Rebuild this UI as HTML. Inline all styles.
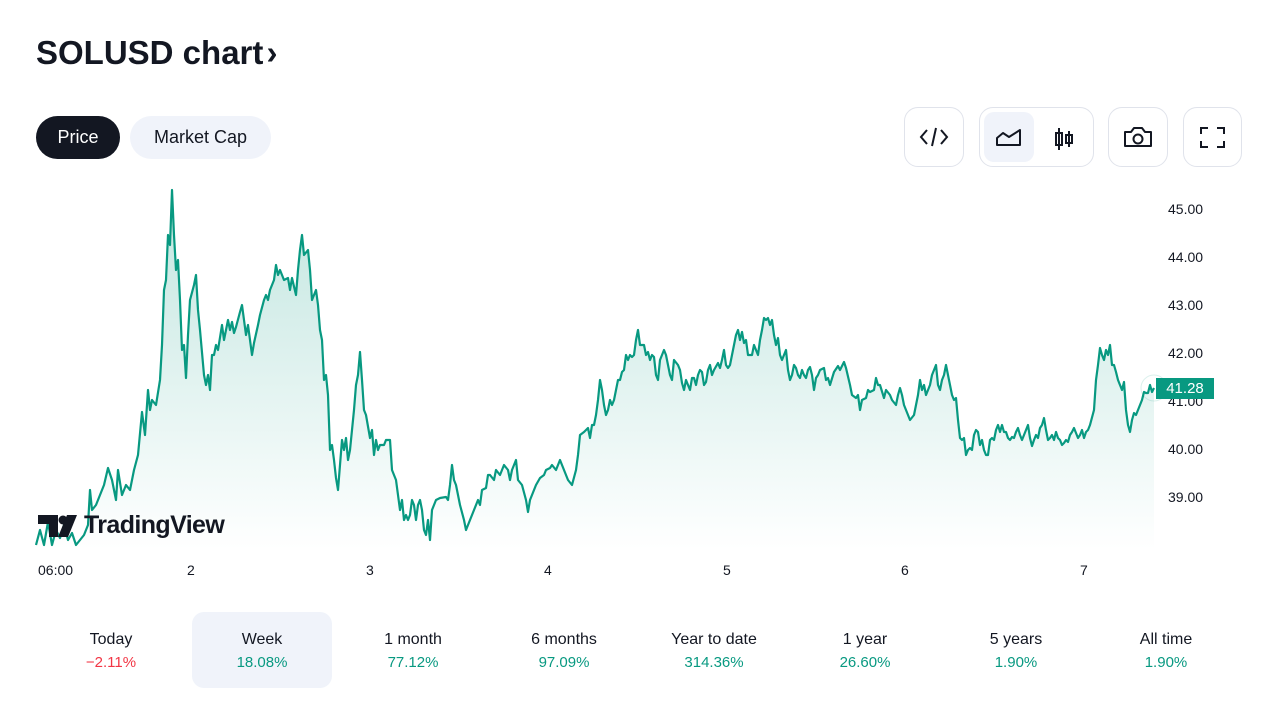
<!DOCTYPE html>
<html><head><meta charset="utf-8"><style>
body{margin:0;width:1280px;height:720px;background:#fff;font-family:"Liberation Sans",sans-serif;color:#131722;position:relative;overflow:hidden}
.a{position:absolute}
.btn{position:absolute;border:1px solid #e0e3eb;border-radius:14px;box-sizing:border-box;background:#fff}
.tab{position:absolute;top:612px;width:140px;height:76px;text-align:center;font-size:16px;border-radius:12px}
.tab .t{margin-top:19px}
.tab .v{margin-top:5px;font-size:15px;color:#089981}
.yl{position:absolute;left:1168px;font-size:14px;color:#131722}
.xl{position:absolute;top:562px;font-size:14px}
</style></head><body>
<div class="a" style="left:36px;top:34px;font-size:33px;font-weight:bold">SOLUSD chart <span style="margin-left:-6px">›</span></div>
<div class="a" style="left:36px;top:116px;width:84px;height:43px;background:#131722;color:#fff;border-radius:22px;text-align:center;line-height:43px;font-size:18px">Price</div>
<div class="a" style="left:130px;top:116px;width:141px;height:43px;background:#f0f3fa;border-radius:22px;text-align:center;line-height:43px;font-size:18px">Market Cap</div>
<div class="btn" style="left:904px;top:107px;width:60px;height:60px"><svg width="58" height="58"><path d="M22 22l-6 7 6 7M36 22l6 7-6 7M31 20l-4 18" fill="none" stroke="#131722" stroke-width="2"/></svg></div>
<div class="btn" style="left:979px;top:107px;width:115px;height:60px"><div class="a" style="left:4px;top:4px;width:50px;height:50px;background:#f0f3fa;border-radius:10px"></div><svg class="a" style="left:0;top:0" width="113" height="58"><path d="M17 37v-7l6-5 6 4 11-7v15z" fill="none" stroke="#131722" stroke-width="2" stroke-linejoin="round"/><path d="M79 20v22M76 25h6v12h-6zM89 23v16M86 27h6v8h-6z" fill="none" stroke="#131722" stroke-width="2"/></svg></div>
<div class="btn" style="left:1108px;top:107px;width:60px;height:60px"><svg width="58" height="58"><path d="M16 24h6l3-4h8l3 4h6v14H16z" fill="none" stroke="#131722" stroke-width="2" stroke-linejoin="round"/><circle cx="29" cy="31" r="4.5" fill="none" stroke="#131722" stroke-width="2"/></svg></div>
<div class="btn" style="left:1183px;top:107px;width:59px;height:60px"><svg width="57" height="58"><path d="M17 26v-6h7M33 20h7v6M40 33v6h-7M24 39h-7v-6" fill="none" stroke="#131722" stroke-width="2"/></svg></div>

<svg class="a" style="left:0;top:0" width="1280" height="600">
<defs><linearGradient id="g" x1="0" y1="0" x2="0" y2="1"><stop offset="0" stop-color="#089981" stop-opacity="0.25"/><stop offset="1" stop-color="#089981" stop-opacity="0.0"/></linearGradient></defs>
<path id="p" d="" fill="url(#g)"/>
<polyline id="l" fill="none" stroke="#089981" stroke-width="2.2" stroke-linejoin="round" points=""/>
<circle cx="1154" cy="388" r="13" fill="none" stroke="#089981" stroke-opacity="0.15" stroke-width="1"/>
<g fill="#131722"><path d="M38 515h20v22h-9v-13h-11z"/><circle cx="63" cy="520" r="4.5"/><path d="M67 515h10l-9 22h-10z"/></g>
</svg>
<script>
var pts="36,545 40,530 44,545 48,522 52,545 56,530 60,538 64,525 68,540 72,533 76,545 80,540 84,535 88,525 90,490 92,510 96,505 100,495 104,485 108,468 112,480 116,500 118,470 122,495 126,485 130,490 134,470 138,455 142,412 145,435 148,390 150,410 152,400 156,405 160,380 162,345 164,290 166,280 168,235 170,245 172,190 174,235 176,270 178,260 180,300 182,350 184,345 186,378 188,335 190,300 194,285 196,275 198,310 200,330 204,375 206,385 208,375 210,390 212,355 214,355 216,345 218,350 222,325 224,340 228,320 230,330 232,322 234,333 236,327 240,312 242,305 246,335 248,325 252,355 254,343 258,325 260,315 264,300 266,295 268,300 270,290 274,280 276,265 278,275 280,270 284,280 288,278 290,290 292,278 296,295 298,270 300,250 302,235 304,255 308,250 310,270 312,300 314,295 316,290 318,305 320,330 322,340 324,380 326,375 328,395 330,450 332,445 334,460 336,478 338,490 342,440 344,450 346,438 348,460 350,450 354,410 356,385 358,375 360,352 362,380 364,410 366,415 370,438 372,430 374,455 376,440 378,450 380,445 384,445 386,440 390,440 392,470 396,480 400,510 402,500 404,520 406,515 408,520 410,515 412,500 414,505 416,520 418,505 420,500 422,510 424,530 426,535 428,520 430,540 432,510 434,505 436,500 440,498 446,497 448,500 450,485 452,465 454,480 456,485 460,505 464,520 466,530 470,520 474,510 478,500 480,505 482,490 486,488 488,475 490,475 494,480 496,470 500,475 504,465 508,470 510,480 512,470 516,460 518,480 522,485 526,500 528,512 530,500 532,495 536,485 540,478 544,475 546,470 550,468 552,465 556,470 560,460 564,470 568,480 572,485 576,470 578,455 580,435 584,432 588,428 590,438 592,425 594,425 596,415 598,400 600,380 602,390 604,405 606,415 608,410 610,400 612,405 614,400 616,390 618,380 620,380 622,372 624,370 626,355 628,360 630,355 632,357 634,355 636,340 638,330 640,345 644,345 646,355 648,352 650,360 652,355 654,357 656,375 658,380 660,360 664,350 666,355 668,365 670,375 672,380 674,360 678,365 680,370 682,383 684,390 686,380 688,385 690,390 692,378 694,378 696,385 698,375 700,370 702,372 704,385 706,382 708,370 710,365 712,375 714,370 718,363 720,368 722,360 724,350 726,365 728,368 730,365 734,345 736,335 738,330 740,340 742,332 744,343 746,340 748,355 752,355 754,345 756,350 758,355 760,340 762,330 764,318 766,320 768,318 770,325 772,320 774,335 776,345 778,338 780,355 782,360 784,355 786,350 788,370 790,380 792,375 794,365 796,368 798,375 800,378 802,370 804,375 806,378 808,370 810,367 812,375 814,390 816,378 818,375 820,370 824,368 826,380 828,378 830,385 834,372 838,366 840,370 844,362 846,368 850,385 852,395 856,398 858,395 860,410 862,400 866,398 868,390 870,392 874,390 876,378 878,385 880,385 884,398 886,390 890,395 892,400 896,405 898,395 900,388 902,395 904,405 906,410 910,420 914,415 916,405 918,395 920,380 922,390 924,385 926,395 928,390 930,385 932,375 934,370 936,365 938,385 940,390 942,380 944,375 946,365 948,375 950,385 952,395 954,400 956,398 958,420 960,438 962,440 964,438 966,455 968,450 970,448 972,450 974,435 976,430 978,432 980,445 982,440 984,450 986,455 988,455 990,440 992,438 994,440 996,430 998,425 1000,432 1002,425 1004,432 1006,432 1008,438 1010,440 1012,437 1014,438 1016,432 1018,428 1020,435 1022,440 1024,435 1026,430 1028,425 1030,438 1032,446 1034,440 1036,435 1038,438 1040,428 1042,425 1044,418 1046,430 1048,440 1050,438 1052,435 1054,440 1056,432 1058,438 1060,440 1062,445 1064,443 1066,440 1068,442 1070,435 1072,432 1074,428 1076,433 1078,438 1080,435 1082,430 1084,438 1086,432 1088,430 1090,425 1094,410 1096,380 1098,365 1100,348 1102,355 1104,360 1106,350 1108,355 1110,345 1112,365 1114,365 1116,372 1118,380 1120,385 1122,390 1124,382 1126,410 1128,425 1130,432 1132,420 1134,413 1136,415 1138,410 1140,405 1142,400 1144,392 1146,393 1148,393 1150,385 1152,392 1154,388";
document.getElementById('l').setAttribute('points',pts);
document.getElementById('p').setAttribute('d','M'+pts.split(' ').join(' L')+' L1154,550 L36,550 Z');
</script>
<div class="yl" style="top:201px">45.00</div>
<div class="yl" style="top:249px">44.00</div>
<div class="yl" style="top:297px">43.00</div>
<div class="yl" style="top:345px">42.00</div>
<div class="yl" style="top:393px">41.00</div>
<div class="yl" style="top:441px">40.00</div>
<div class="yl" style="top:489px">39.00</div>
<div class="a" style="left:1156px;top:378px;width:58px;height:21px;background:#089981;color:#fff;font-size:15px;line-height:21px;text-align:center">41.28</div>
<div class="a" style="left:84px;top:511px;font-size:25px;font-weight:bold;letter-spacing:-0.6px">TradingView</div>
<div class="xl" style="left:38px">06:00</div>
<div class="xl" style="left:187px">2</div>
<div class="xl" style="left:366px">3</div>
<div class="xl" style="left:544px">4</div>
<div class="xl" style="left:723px">5</div>
<div class="xl" style="left:901px">6</div>
<div class="xl" style="left:1080px">7</div>
<div class="tab" style="left:41px"><div class="t">Today</div><div class="v" style="color:#f23645">−2.11%</div></div>
<div class="tab" style="left:192px;background:#f0f3fa"><div class="t">Week</div><div class="v">18.08%</div></div>
<div class="tab" style="left:343px"><div class="t">1 month</div><div class="v">77.12%</div></div>
<div class="tab" style="left:494px"><div class="t">6 months</div><div class="v">97.09%</div></div>
<div class="tab" style="left:644px"><div class="t">Year to date</div><div class="v">314.36%</div></div>
<div class="tab" style="left:795px"><div class="t">1 year</div><div class="v">26.60%</div></div>
<div class="tab" style="left:946px"><div class="t">5 years</div><div class="v">1.90%</div></div>
<div class="tab" style="left:1096px"><div class="t">All time</div><div class="v">1.90%</div></div>
</body></html>
